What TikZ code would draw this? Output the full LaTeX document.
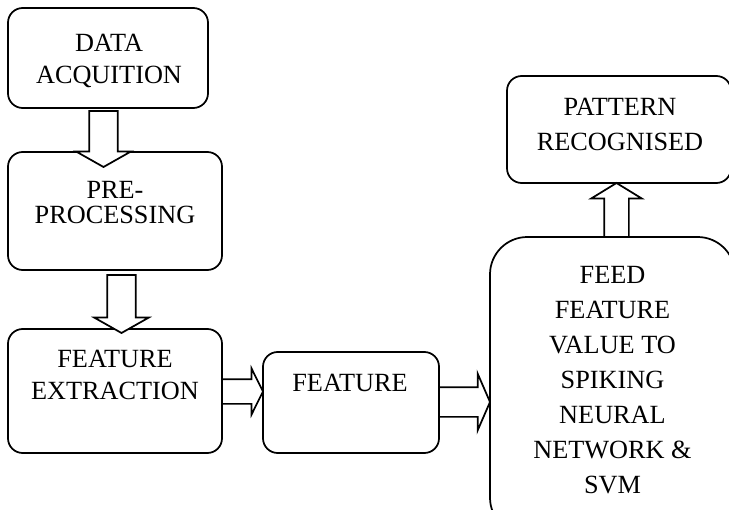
\documentclass[tikz,border=0pt]{standalone}
\usepackage{fontspec}
\setmainfont{Liberation Serif}
\usepackage{tikz}
\usetikzlibrary{shapes.arrows}

\tikzset{
    box/.style={draw, line width=1.3pt, rounded corners=11pt, inner sep=0pt, outer sep=0pt},
    txt/.style={align=center, anchor=base, inner sep=0pt, font=\fontsize{19.7pt}{24pt}\selectfont},
    blockarrow/.style={single arrow, draw, fill=white, line width=1.3pt, inner xsep=0pt, outer sep=0pt, single arrow head indent=0pt}
}

\begin{document}
\begin{tikzpicture}[x=0.75pt, y=-0.75pt]
    \useasboundingbox (0, 0) rectangle (729, 510);
    \clip (0, 0) rectangle (729, 510);
    % boxes
    \node [box, minimum width=150pt, minimum height=75pt] (acq) at (108, 58) {};
    \node [box, minimum width=160.5pt, minimum height=88.5pt] (pre) at (115, 211) {};
    \node [box, minimum width=160.5pt, minimum height=93pt] (ext) at (115, 391) {};
    \node [box, minimum width=132pt, minimum height=75.75pt] (feat) at (351, 402.5) {};
    \node [box, minimum width=183.75pt, minimum height=223.5pt, rounded corners=28pt] (feed) at (612.5, 386) {};
    \node [box, minimum width=168pt, minimum height=80.25pt] (pat) at (619, 129.5) {};
    % texts (base = last line)
    \node [txt] (acqtext) at (109, 83.7) {DATA\\ACQUITION};
    \node [txt, font=\fontsize{19.7pt}{18.75pt}\selectfont] (pretext) at (115, 223.7) {PRE-\\PROCESSING};
    \node [txt] (exttext) at (115, 399.7) {FEATURE\\EXTRACTION};
    \node [txt] (feattext) at (350, 391.7) {FEATURE};
    \node [txt, font=\fontsize{19.7pt}{26.25pt}\selectfont] (feedtext) at (612.5, 493.7) {FEED\\FEATURE\\VALUE TO\\SPIKING\\NEURAL\\NETWORK \&\\SVM};
    \node [txt, font=\fontsize{19.7pt}{26.25pt}\selectfont] (pattext) at (620, 150.7) {PATTERN\\RECOGNISED};
    % block arrows
    \node [blockarrow, rotate=-90, anchor=tip, minimum height=42pt, inner ysep=10.1pt,
        single arrow head extend=9.75pt, single arrow tip angle=121] (a1) at (103.5, 167) {};
    \node [blockarrow, rotate=-90, anchor=tip, minimum height=43.5pt, inner ysep=10.1pt,
        single arrow head extend=9.75pt, single arrow tip angle=121] (a2) at (121.5, 333) {};
    \node [blockarrow, anchor=tip, minimum height=30.75pt, inner ysep=8.625pt,
        single arrow head extend=7.875pt, single arrow tip angle=127] (a3) at (263, 391.5) {};
    \node [blockarrow, anchor=tip, minimum height=38.25pt, inner ysep=10.5pt,
        single arrow head extend=10.125pt, single arrow tip angle=133] (a4) at (490, 402) {};
    \node [blockarrow, rotate=90, anchor=tip, minimum height=40.5pt, inner ysep=8.625pt,
        single arrow head extend=9.75pt, single arrow tip angle=117] (a5) at (616.5, 183) {};
\end{tikzpicture}
\end{document}
